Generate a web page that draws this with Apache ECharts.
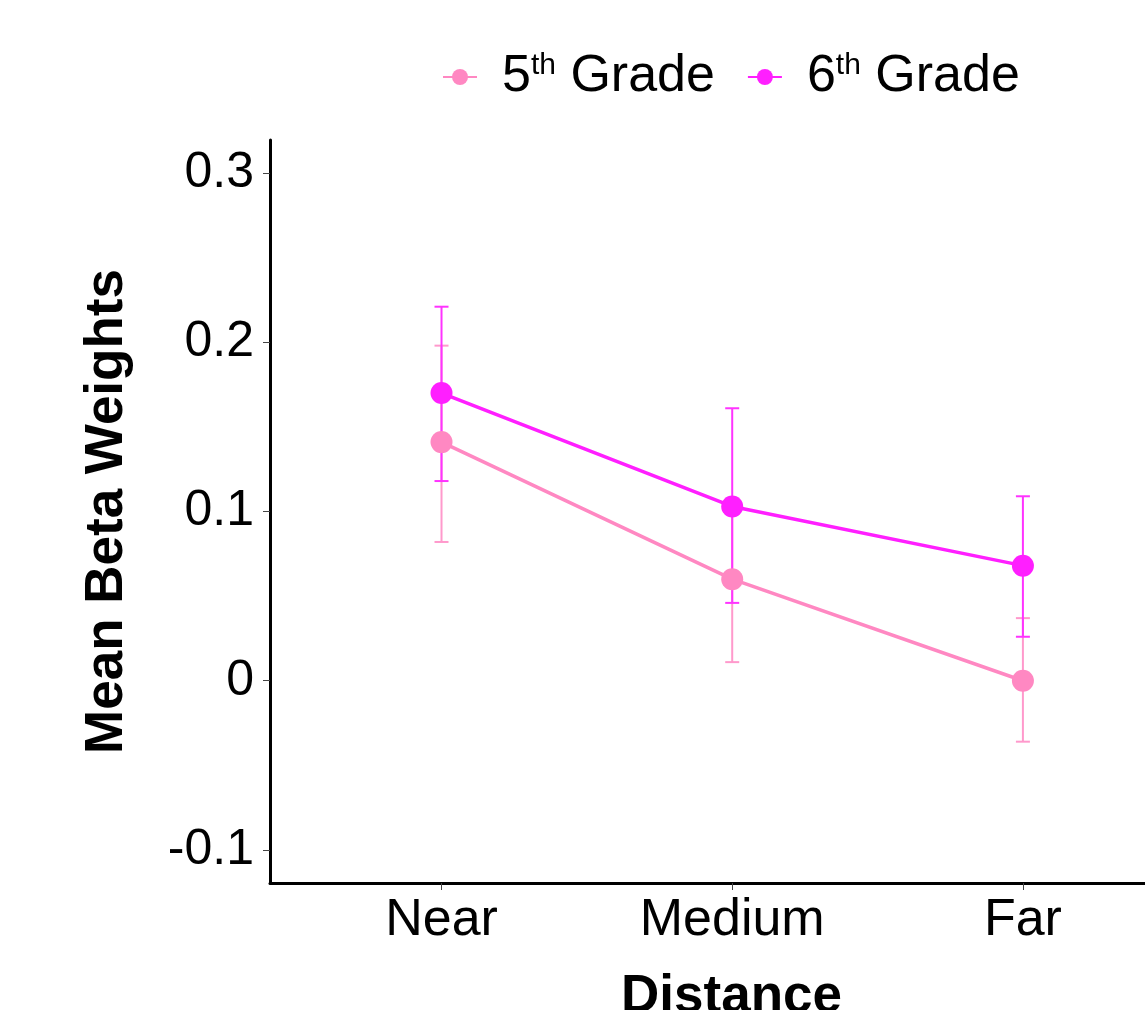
<!DOCTYPE html>
<html>
<head>
<meta charset="utf-8">
<script src="https://cdn.jsdelivr.net/npm/echarts@6/dist/echarts.min.js"></script>
<style>
  html, body { margin: 0; padding: 0; background: #fff; }
  #chart { width: 1145px; height: 1010px; }
</style>
</head>
<body>
<div id="chart"></div>
<script>
// data
var categories = ['Near', 'Medium', 'Far'];
var seriesNames = ['5th Grade', '6th Grade'];
var grade5Mean = [0.141, 0.060, 0.000];
var grade5Low = [0.082, 0.011, -0.036];
var grade5High = [0.198, 0.107, 0.037];
var grade6Mean = [0.170, 0.103, 0.068];
var grade6Low = [0.118, 0.046, 0.026];
var grade6High = [0.221, 0.161, 0.109];
var yTicks = [-0.1, 0, 0.1, 0.2, 0.3];

var chart = echarts.init(document.getElementById('chart'));

function points(means) {
    return means.map(function (v, i) { return [i, v]; });
}
function bars(low, high) {
    return low.map(function (v, i) { return [i, v, high[i]]; });
}

function renderErrorBar(params, api) {
    var x = api.value(0);
    var lo = api.coord([x, api.value(1)]);
    var hi = api.coord([x, api.value(2)]);
    var w = 7;
    var style = { stroke: api.visual('color'), lineWidth: 2 };
    return {
        type: 'group',
        children: [
            { type: 'line', shape: { x1: lo[0], y1: lo[1], x2: hi[0], y2: hi[1] }, style: style },
            { type: 'line', shape: { x1: lo[0] - w, y1: lo[1], x2: lo[0] + w, y2: lo[1] }, style: style },
            { type: 'line', shape: { x1: hi[0] - w, y1: hi[1], x2: hi[0] + w, y2: hi[1] }, style: style }
        ]
    };
}

var font = 'Liberation Sans, Arial, sans-serif';

chart.setOption({
    animation: false,
    legend: {
        data: seriesNames,
        left: 437,
        top: 46,
        itemWidth: 34,
        itemHeight: 20,
        itemGap: 32,
        formatter: function (name) {
            return '{num|' + name.charAt(0) + '}{sup|th}{txt| Grade}';
        },
        textStyle: {
            color: '#000',
            fontFamily: font,
            rich: {
                num: { fontSize: 52, padding: [0, 0, 0, 20], fontFamily: font, color: '#000' },
                sup: { fontSize: 30, verticalAlign: 'top', padding: [0, 0, 18, 0], fontFamily: font, color: '#000' },
                txt: { fontSize: 52, fontFamily: font, color: '#000' }
            }
        }
    },
    grid: { left: 270, right: 0, top: 140, bottom: 127, outerBoundsMode: 'none' },
    xAxis: {
        type: 'value',
        min: -0.59,
        max: 2.42,
        splitLine: { show: false },
        axisLine: { onZero: false, lineStyle: { color: '#000', width: 3 } },
        axisTick: { customValues: [0, 1, 2], length: 7, lineStyle: { color: '#444', width: 1 } },
        axisLabel: {
            customValues: [0, 1, 2],
            formatter: function (v) { return categories[Math.round(v)]; },
            fontSize: 52,
            color: '#000',
            margin: 12,
            fontFamily: font
        },
        name: 'Distance',
        nameLocation: 'middle',
        nameGap: 88,
        nameTextStyle: {
            fontSize: 53,
            fontWeight: 'bold',
            color: '#000',
            padding: [0, 0, 0, 48],
            fontFamily: font
        }
    },
    yAxis: {
        type: 'value',
        min: -0.1195,
        max: 0.3195,
        splitLine: { show: false },
        axisLine: { show: true, onZero: false, lineStyle: { color: '#000', width: 3 } },
        axisTick: { show: true, customValues: yTicks, length: 7, lineStyle: { color: '#444', width: 1 } },
        axisLabel: {
            customValues: yTicks,
            formatter: function (v) { return String(Math.round(v * 10) / 10); },
            fontSize: 50,
            color: '#000',
            margin: 16,
            fontFamily: font
        },
        name: 'Mean Beta Weights',
        nameLocation: 'middle',
        nameGap: 136,
        nameTextStyle: {
            fontSize: 53,
            fontWeight: 'bold',
            color: '#000',
            fontFamily: font
        }
    },
    series: [
        {
            name: seriesNames[0] + ' err',
            type: 'custom',
            renderItem: renderErrorBar,
            itemStyle: { color: '#FF99CC' },
            data: bars(grade5Low, grade5High),
            encode: { x: 0, y: [1, 2] },
            silent: true
        },
        {
            name: seriesNames[0],
            type: 'line',
            data: points(grade5Mean),
            symbol: 'circle',
            symbolSize: 22,
            itemStyle: { color: '#FF88C2' },
            lineStyle: { color: '#FF88C2', width: 3.5 }
        },
        {
            name: seriesNames[1] + ' err',
            type: 'custom',
            renderItem: renderErrorBar,
            itemStyle: { color: '#FF33FF' },
            data: bars(grade6Low, grade6High),
            encode: { x: 0, y: [1, 2] },
            silent: true
        },
        {
            name: seriesNames[1],
            type: 'line',
            data: points(grade6Mean),
            symbol: 'circle',
            symbolSize: 22,
            itemStyle: { color: '#FF1FFF' },
            lineStyle: { color: '#FF1FFF', width: 3.5 }
        }
    ]
});
</script>
</body>
</html>
